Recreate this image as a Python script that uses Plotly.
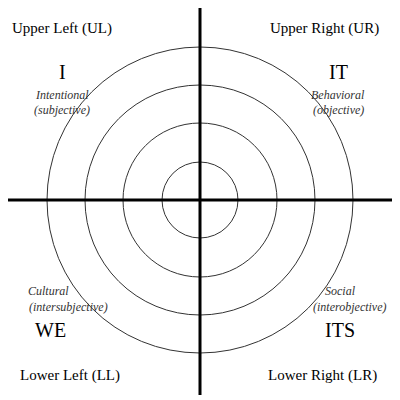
import plotly.graph_objects as go

radii = [38, 77, 115, 153]
quad_labels = ["Upper Left (UL)", "Upper Right (UR)", "Lower Left (LL)", "Lower Right (LR)"]
quad_pos = [(62, 28), (324, 28), (70, 375), (322, 375)]
big_labels = ["I", "IT", "WE", "ITS"]
big_pos = [(62, 72), (338, 72), (50, 330), (340, 330)]
small_labels = ["Intentional", "(subjective)", "Behavioral", "(objective)",
                "Cultural", "(intersubjective)", "Social", "(interobjective)"]
small_pos = [(62, 95), (62, 110), (338, 95), (338, 110),
             (48, 291), (68, 307), (340, 291), (350, 307)]

cx, cy = 200, 200
fig = go.Figure()
shapes = []
for r in radii:
    shapes.append(dict(type="circle", x0=cx - r, x1=cx + r, y0=cy - r, y1=cy + r,
                       line=dict(color="#333", width=1)))
shapes.append(dict(type="line", x0=8, x1=392, y0=cy, y1=cy, line=dict(color="black", width=3)))
shapes.append(dict(type="line", x0=cx, x1=cx, y0=5, y1=395, line=dict(color="black", width=3)))

font = "Liberation Serif"
ann = []
for t, (x, y) in zip(quad_labels, quad_pos):
    ann.append(dict(x=x, y=y, text=t, font=dict(size=15, family=font, color="black")))
for t, (x, y) in zip(big_labels, big_pos):
    ann.append(dict(x=x, y=y, text=t, font=dict(size=20, family=font, color="black")))
for t, (x, y) in zip(small_labels, small_pos):
    ann.append(dict(x=x, y=y, text="<i>" + t + "</i>", font=dict(size=12, family=font, color="#333")))
for a in ann:
    a.update(showarrow=False, xref="x", yref="y")

fig.update_layout(width=400, height=400, margin=dict(l=0, r=0, t=0, b=0),
                  paper_bgcolor="white", plot_bgcolor="white", shapes=shapes, annotations=ann,
                  xaxis=dict(range=[8, 408], visible=False),
                  yaxis=dict(range=[408, 8], visible=False), showlegend=False)
fig.write_html("out.html")
